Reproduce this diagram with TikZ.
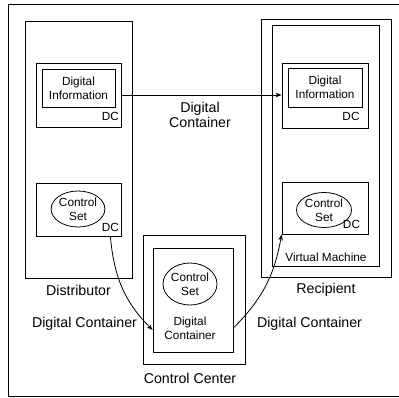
\documentclass[tikz,border=0pt]{standalone}
\usepackage{fontspec}
\setmainfont{Liberation Sans}
\usetikzlibrary{shapes.geometric,arrows.meta}

\begin{document}
\begin{tikzpicture}[x=1pt,y=-1pt,
  box/.style={draw, line width=0.8pt, inner sep=0pt},
  small/.style={font=\fontsize{11.8}{14}\selectfont, align=center, inner sep=0pt},
  big/.style={font=\fontsize{14.2}{15}\selectfont, align=center, inner sep=0pt},
  oval/.style={draw, ellipse, line width=0.8pt, inner sep=0pt, small},
  arr/.style={line width=0.8pt, -{Stealth[length=6pt,width=4.5pt]}}
]
\useasboundingbox (0,0) rectangle (399,397);

% outer frame
\draw[line width=1pt] (8,4) rectangle (403,396);

% Distributor
\node[box, minimum width=107pt, minimum height=257pt] (dist) at (78.5,149.5) {};
\node[box, minimum width=85pt, minimum height=64pt] (dcA) at (78.5,95) {};
\node[box, small, minimum width=73pt, minimum height=38pt] (infoA) at (78.5,88) {Digital\\Information};
\node[small, anchor=base] (dcAlbl) at (110.5,120) {DC};
\node[box, minimum width=85pt, minimum height=53pt] (csA) at (78.5,209.5) {};
\node[oval, minimum width=53pt, minimum height=36pt] (ellA) at (78,209) {Control\\Set};
\node[small, anchor=base] (csAlbl) at (110.5,231) {DC};
\node[big, anchor=base] (distlbl) at (78.5,295) {Distributor};

% Control Center
\node[box, minimum width=102pt, minimum height=129pt] (ccO) at (194,299.5) {};
\node[box, minimum width=80pt, minimum height=104pt] (ccI) at (193,300) {};
\node[oval, minimum width=54pt, minimum height=42pt] (ellC) at (190,284) {Control\\Set};
\node[small] (ccTxt) at (190,328) {Digital\\Container};
\node[big, anchor=base] (cclbl) at (190,383) {Control Center};

% Recipient
\node[box, minimum width=130pt, minimum height=258pt] (rec) at (326,148) {};
\node[box, minimum width=107pt, minimum height=241pt] (vm) at (325.5,145.5) {};
\node[box, minimum width=86pt, minimum height=65pt] (dcB) at (325,95.5) {};
\node[box, small, minimum width=74pt, minimum height=39pt] (infoB) at (325,87.5) {Digital\\Information};
\node[small, anchor=base] (dcBlbl) at (351,120) {DC};
\node[box, minimum width=86pt, minimum height=52pt] (csB) at (325,208) {};
\node[oval, minimum width=55pt, minimum height=35pt] (ellB) at (324,210) {Control\\Set};
\node[small, anchor=base] (csBlbl) at (351.5,228) {DC};
\node[small, anchor=base] (vmlbl) at (326,261) {Virtual Machine};
\node[big, anchor=base] (reclbl) at (326,293) {Recipient};

% transfer labels
\node[big] (topLbl) at (200,115) {Digital\\Container};
\node[big, anchor=base] (leftLbl) at (84.5,327) {Digital Container};
\node[big, anchor=base] (rightLbl) at (309.5,327) {Digital Container};

% connectors
\draw[arr] (dcA.east) -- (dcA.east -| dcB.west);
\draw[arr] ([xshift=-11pt]csA.south east) to[out=-85, in=135] ([yshift=-30pt]ccI.west);
\draw[arr] ([yshift=-28pt]ccI.east) to[out=45, in=-100] (csB.south west);
\end{tikzpicture}
\end{document}
